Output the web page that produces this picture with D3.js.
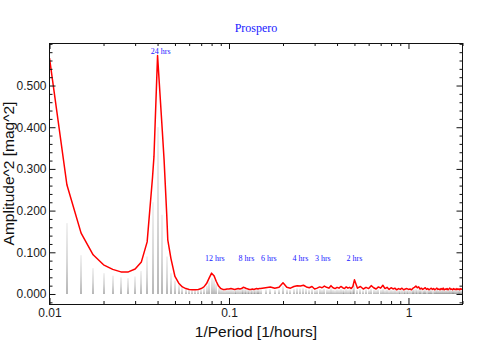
<!DOCTYPE html>
<html>
<head>
<meta charset="utf-8">
<script src="https://cdn.jsdelivr.net/npm/d3@7"></script>
<style>
  body { margin: 0; background: #fff; }
  .tick text { font-family: "Liberation Sans", Arial, sans-serif; font-size: 12px; fill: #1a1a1a; }
  .tick line { stroke: #111; }
  .label { font-family: "Liberation Serif", "Times New Roman", serif; fill: #2020ff; }
  .axtitle { font-family: "Liberation Sans", Arial, sans-serif; font-size: 15.5px; fill: #111; }
</style>
</head>
<body>
<svg id="chart"></svg>
<script>

/**  Data  **/
var freq = [0.01, 0.0125, 0.015, 0.0175, 0.02, 0.0225, 0.025, 0.0275, 0.03, 0.0325,
  0.035, 0.0375, 0.0382, 0.04, 0.0425, 0.0435, 0.045, 0.0456, 0.0475, 0.05,
  0.0525, 0.055, 0.0575, 0.06, 0.0625, 0.065, 0.0675, 0.07, 0.0725, 0.075,
  0.0775, 0.08, 0.0825, 0.085, 0.0875, 0.09, 0.0925, 0.095, 0.0975, 0.1,
  0.1025, 0.105, 0.1075, 0.11, 0.1125, 0.115, 0.1175, 0.12, 0.1225, 0.125,
  0.1275, 0.13, 0.1325, 0.135, 0.1375, 0.14, 0.1425, 0.145, 0.1475, 0.15,
  0.16, 0.17, 0.18, 0.19, 0.20, 0.21, 0.22, 0.23, 0.24, 0.25,
  0.26, 0.27, 0.28, 0.29, 0.30, 0.31, 0.32, 0.33, 0.34, 0.35,
  0.36, 0.37, 0.38, 0.39, 0.40, 0.41, 0.42, 0.43, 0.44, 0.45,
  0.46, 0.47, 0.48, 0.49, 0.50,
  0.52, 0.54, 0.56, 0.58, 0.60, 0.62, 0.64, 0.66, 0.68, 0.70,
  0.72, 0.74, 0.76, 0.78, 0.80, 0.82, 0.84, 0.86, 0.88, 0.90,
  0.92, 0.94, 0.96, 0.98, 1.00, 1.02, 1.04, 1.06, 1.08, 1.10,
  1.12, 1.14, 1.16, 1.18, 1.20, 1.22, 1.24, 1.26, 1.28, 1.30,
  1.32, 1.34, 1.36, 1.38, 1.40, 1.42, 1.44, 1.46, 1.48, 1.50,
  1.52, 1.54, 1.56, 1.58, 1.60, 1.62, 1.64, 1.66, 1.68, 1.70,
  1.72, 1.74, 1.76, 1.78, 1.80, 1.82, 1.84, 1.86, 1.88, 1.90,
  1.92, 1.94, 1.96, 1.98, 2.00];

// red curve
var amp = [0.566, 0.262, 0.146, 0.094, 0.070, 0.059, 0.053, 0.053, 0.060, 0.077,
  0.125, 0.280, 0.330, 0.572, 0.392, 0.321, 0.190, 0.130, 0.085, 0.042,
  0.026, 0.017, 0.013, 0.011, 0.010, 0.010, 0.011, 0.013, 0.017, 0.025,
  0.038, 0.050, 0.044, 0.030, 0.019, 0.013, 0.011, 0.011, 0.012, 0.012,
  0.013, 0.012, 0.011, 0.012, 0.013, 0.012, 0.013, 0.016, 0.015, 0.013,
  0.012, 0.011, 0.011, 0.012, 0.011, 0.012, 0.013, 0.012, 0.013, 0.013,
  0.015, 0.017, 0.014, 0.016, 0.027, 0.016, 0.014, 0.018, 0.020, 0.019,
  0.021, 0.017, 0.015, 0.018, 0.012, 0.014, 0.017, 0.015, 0.019, 0.016,
  0.014, 0.020, 0.015, 0.013, 0.016, 0.014, 0.018, 0.015, 0.013, 0.017,
  0.014, 0.016, 0.013, 0.018, 0.034,
  0.014, 0.018, 0.012, 0.016, 0.013, 0.020, 0.015, 0.012, 0.017, 0.014,
  0.021, 0.013, 0.016, 0.011, 0.015, 0.012, 0.014, 0.010, 0.013, 0.011,
  0.014, 0.010, 0.012, 0.013, 0.011, 0.012, 0.010, 0.014, 0.016, 0.019,
  0.015, 0.017, 0.012, 0.014, 0.011, 0.013, 0.015, 0.011, 0.013, 0.010,
  0.012, 0.014, 0.011, 0.013, 0.010, 0.012, 0.014, 0.011, 0.012, 0.010,
  0.013, 0.011, 0.014, 0.010, 0.012, 0.011, 0.013, 0.010, 0.012, 0.014,
  0.011, 0.012, 0.010, 0.013, 0.011, 0.012, 0.010, 0.013, 0.011, 0.012,
  0.010, 0.013, 0.011, 0.012, 0.011];

// grey stems (null = no stem at that point)
var stem = [0, 0.170, 0.093, 0.062, 0.050, 0.044, 0.040, 0.038, 0.042, 0.055,
  0.090, 0.220, null, 0.400, 0.190, null, 0.090, null, 0.050, 0.032,
  0.022, 0.015, 0.012, 0.010, 0.009, 0.009, 0.009, 0.011, 0.014, 0.020,
  0.030, 0.038, 0.034, 0.024, 0.015, 0.011, 0.010, 0.009, 0.010, 0.010,
  0.011, 0.010, 0.009, 0.010, 0.011, 0.010, 0.011, 0.013, 0.012, 0.010,
  0.010, 0.009, 0.009, 0.010, 0.009, 0.010, 0.010, 0.009, 0.010, 0.010,
  0.011, 0.012, 0.010, 0.011, 0.019, 0.011, 0.010, 0.012, 0.014, 0.013,
  0.014, 0.012, 0.010, 0.012, 0.009, 0.010, 0.012, 0.010, 0.013, 0.011,
  0.010, 0.014, 0.010, 0.009, 0.011, 0.010, 0.012, 0.010, 0.009, 0.012,
  0.010, 0.011, 0.009, 0.012, 0.022,
  0.010, 0.012, 0.009, 0.011, 0.009, 0.013, 0.010, 0.009, 0.011, 0.010,
  0.013, 0.009, 0.011, 0.008, 0.010, 0.009, 0.010, 0.008, 0.009, 0.008,
  0.010, 0.008, 0.009, 0.009, 0.008, 0.009, 0.008, 0.010, 0.011, 0.012,
  0.010, 0.011, 0.009, 0.010, 0.008, 0.009, 0.010, 0.008, 0.009, 0.008,
  0.009, 0.010, 0.008, 0.009, 0.008, 0.009, 0.010, 0.008, 0.009, 0.008,
  0.009, 0.008, 0.010, 0.008, 0.009, 0.008, 0.009, 0.008, 0.009, 0.010,
  0.008, 0.009, 0.008, 0.009, 0.008, 0.009, 0.008, 0.009, 0.008, 0.009,
  0.008, 0.009, 0.008, 0.009, 0.008];

// period markers
var periods = [24, 12, 8, 6, 4, 3, 2];
var periodLabels = ["24 hrs", "12 hrs", "8 hrs", "6 hrs", "4 hrs", "3 hrs", "2 hrs"];
var periodLabelAmp = [0.576, 0.080, 0.080, 0.080, 0.080, 0.080, 0.080];

// axes
var yMajor = [0, 0.1, 0.2, 0.3, 0.4, 0.5];
var yTickLabels = ["0.000", "0.100", "0.200", "0.300", "0.400", "0.500"];
var yMinor = [-0.02, 0.02, 0.04, 0.06, 0.08, 0.12, 0.14, 0.16, 0.18, 0.22, 0.24, 0.26, 0.28,
  0.32, 0.34, 0.36, 0.38, 0.42, 0.44, 0.46, 0.48, 0.52, 0.54, 0.56, 0.58, 0.60];
var xMajor = [0.01, 0.1, 1];
var xTickLabels = ["0.01", "0.1", "1"];
var xMinor = [0.02, 0.03, 0.04, 0.05, 0.06, 0.07, 0.08, 0.09,
  0.2, 0.3, 0.4, 0.5, 0.6, 0.7, 0.8, 0.9, 2];

var title = "Prospero";
var xTitle = "1/Period [1/hours]";
var yTitle = "Amplitude^2 [mag^2]";


var W = 494, H = 356;
var margin = {top: 43, right: 462.5, bottom: 304, left: 49.5};

var svg = d3.select("#chart")
    .attr("width", W)
    .attr("height", H);

/**  Scales  **/
var x = d3.scaleLog()
    .domain([0.01, 2])
    .range([margin.left, margin.right]);

var y = d3.scaleLinear()
    .domain([-0.024, 0.602])
    .range([margin.bottom, margin.top]);

var defs = svg.append("defs");
var grad = defs.append("linearGradient")
    .attr("id", "stemGrad")
    .attr("x1", 0).attr("y1", 0).attr("x2", 0).attr("y2", 1);
grad.append("stop").attr("offset", "0%").attr("stop-color", "#e4e4e4");
grad.append("stop").attr("offset", "55%").attr("stop-color", "#b0b0b0");
grad.append("stop").attr("offset", "100%").attr("stop-color", "#6e6e6e");

defs.append("clipPath").attr("id", "plotClip")
  .append("rect")
    .attr("x", margin.left).attr("y", margin.top)
    .attr("width", margin.right - margin.left).attr("height", margin.bottom - margin.top);

var plot = svg.append("g").attr("clip-path", "url(#plotClip)");

/**  Grey stems  **/
var stemData = [];
for (var i = 0; i < freq.length; i++) {
  if (stem[i] != null && stem[i] > 0) stemData.push({ f: freq[i], v: stem[i] });
}

plot.selectAll(".stem")
    .data(stemData)
    .enter()
    .append("rect")
      .attr("class", "stem")
      .attr("x", function(d) { return Math.round(x(d.f)) - 0.5; })
      .attr("y", function(d) { return y(d.v); })
      .attr("width", 1)
      .attr("height", function(d) { return y(0) - y(d.v); })
      .attr("fill", "url(#stemGrad)");

/**  Red curve  **/
var line = d3.line()
    .x(function(d, i) { return x(freq[i]); })
    .y(function(d) { return y(d); });

plot.append("path")
    .datum(amp)
    .attr("fill", "none")
    .attr("stroke", "#ff0000")
    .attr("stroke-width", 1.5)
    .attr("stroke-linejoin", "round")
    .attr("d", line);

/**  Axes, IDL style: ticks inward on all four sides  **/
function noDomain(g) { g.select(".domain").remove(); }

svg.append("g")
    .attr("transform", "translate(" + margin.left + ",0)")
    .call(d3.axisLeft(y).tickValues(yMajor).tickSize(-6).tickPadding(3)
      .tickFormat(function(d, i) { return yTickLabels[i]; }))
    .call(noDomain);
svg.append("g")
    .attr("transform", "translate(" + margin.left + ",0)")
    .call(d3.axisLeft(y).tickValues(yMinor).tickSize(-3).tickFormat(""))
    .call(noDomain);
svg.append("g")
    .attr("transform", "translate(" + margin.right + ",0)")
    .call(d3.axisRight(y).tickValues(yMajor).tickSize(-6).tickFormat(""))
    .call(noDomain);
svg.append("g")
    .attr("transform", "translate(" + margin.right + ",0)")
    .call(d3.axisRight(y).tickValues(yMinor).tickSize(-3).tickFormat(""))
    .call(noDomain);

svg.append("g")
    .attr("transform", "translate(0," + margin.bottom + ")")
    .call(d3.axisBottom(x).tickValues(xMajor).tickSize(-6).tickPadding(4)
      .tickFormat(function(d, i) { return xTickLabels[i]; }))
    .call(noDomain);
svg.append("g")
    .attr("transform", "translate(0," + margin.bottom + ")")
    .call(d3.axisBottom(x).tickValues(xMinor).tickSize(-3).tickFormat(""))
    .call(noDomain);
svg.append("g")
    .attr("transform", "translate(0," + margin.top + ")")
    .call(d3.axisTop(x).tickValues(xMajor).tickSize(-6).tickFormat(""))
    .call(noDomain);
svg.append("g")
    .attr("transform", "translate(0," + margin.top + ")")
    .call(d3.axisTop(x).tickValues(xMinor).tickSize(-3).tickFormat(""))
    .call(noDomain);

svg.selectAll(".tick text").attr("font-family", null).attr("font-size", null);

// frame
svg.append("rect")
    .attr("x", margin.left)
    .attr("y", margin.top + 0.5)
    .attr("width", margin.right - margin.left)
    .attr("height", margin.bottom - margin.top)
    .attr("fill", "none")
    .attr("stroke", "#111")
    .attr("stroke-width", 1);

/**  Period labels  **/
svg.selectAll(".plabel")
    .data(periods)
    .enter()
    .append("text")
      .attr("class", "label")
      .attr("x", function(d) { return x(1 / d); })
      .attr("y", function(d, i) { return y(periodLabelAmp[i]); })
      .attr("text-anchor", "middle")
      .style("font-size", "8px")
      .text(function(d, i) { return periodLabels[i]; });

/**  Titles  **/
svg.append("text")
    .attr("class", "label")
    .attr("x", (margin.left + margin.right) / 2)
    .attr("y", 32)
    .attr("text-anchor", "middle")
    .style("font-size", "12px")
    .text(title);

svg.append("text")
    .attr("class", "axtitle")
    .attr("x", (margin.left + margin.right) / 2)
    .attr("y", 337)
    .attr("text-anchor", "middle")
    .text(xTitle);

svg.append("text")
    .attr("class", "axtitle")
    .attr("transform", "rotate(-90)")
    .attr("x", 0 - (margin.top + margin.bottom) / 2)
    .attr("y", 13.5)
    .attr("text-anchor", "middle")
    .text(yTitle);

</script>
</body>
</html>
